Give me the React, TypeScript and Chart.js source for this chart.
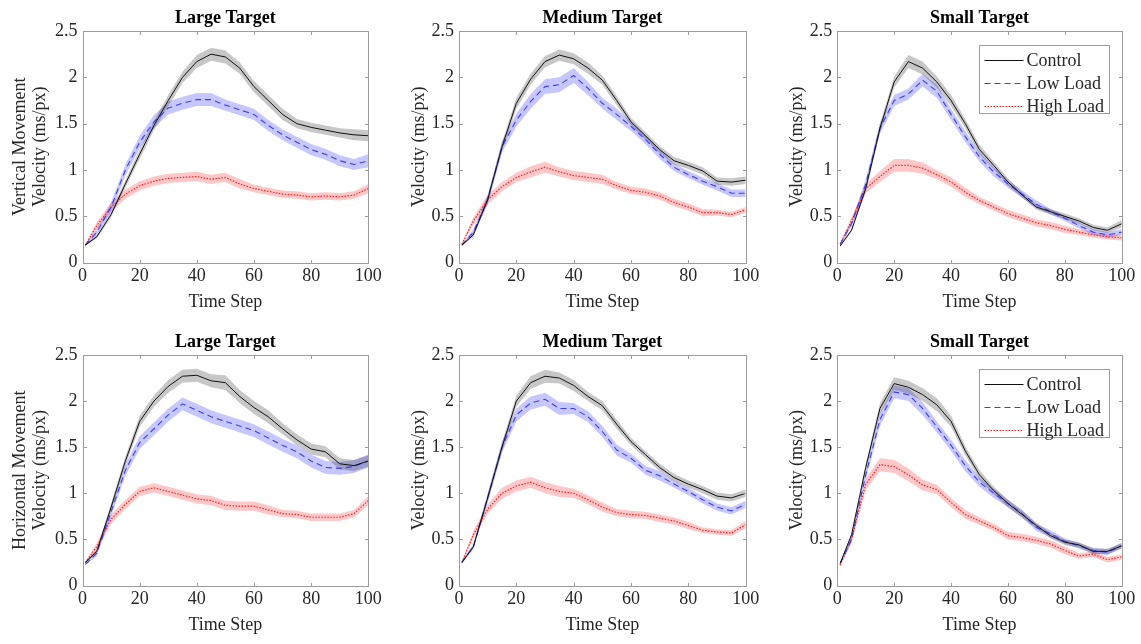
import { useEffect, useRef } from "react";
import { Chart, registerables } from "chart.js";

Chart.register(...registerables);

// Time steps at which the mean curves and their error bands are sampled
const timeSteps = [1, 5, 10, 15, 20, 25, 30, 35, 40, 45, 50, 55, 60, 65, 70, 75, 80, 85, 90, 95, 100];

const seriesNames = ["Control", "Low Load", "High Load"];
const targetTitles = ["Large Target", "Medium Target", "Small Target"];
const movementLabels = ["Vertical Movement", "Horizontal Movement"];
const xTickStep = 20;
const yTickStep = 0.5;

// Vertical movement, large target
const vLargeControl = [0.19, 0.28, 0.52, 0.85, 1.17, 1.48, 1.75, 2.0, 2.17, 2.25, 2.22, 2.1, 1.9, 1.75, 1.6, 1.5, 1.46, 1.43, 1.4, 1.38, 1.37];
const vLargeControlErr = [0.01, 0.02, 0.03, 0.04, 0.05, 0.05, 0.06, 0.06, 0.07, 0.07, 0.07, 0.06, 0.06, 0.06, 0.06, 0.05, 0.05, 0.05, 0.05, 0.06, 0.06];
const vLargeLow = [0.19, 0.33, 0.6, 1.0, 1.3, 1.52, 1.67, 1.72, 1.76, 1.76, 1.7, 1.65, 1.6, 1.48, 1.38, 1.3, 1.22, 1.17, 1.1, 1.06, 1.1];
const vLargeLowErr = [0.01, 0.03, 0.05, 0.06, 0.07, 0.07, 0.07, 0.07, 0.07, 0.07, 0.06, 0.06, 0.06, 0.06, 0.06, 0.06, 0.06, 0.06, 0.06, 0.06, 0.07];
const vLargeHigh = [0.19, 0.4, 0.6, 0.74, 0.83, 0.88, 0.91, 0.92, 0.93, 0.9, 0.92, 0.85, 0.8, 0.77, 0.74, 0.73, 0.71, 0.72, 0.71, 0.73, 0.8];
const vLargeHighErr = [0.01, 0.04, 0.05, 0.05, 0.05, 0.05, 0.05, 0.05, 0.05, 0.05, 0.05, 0.05, 0.04, 0.04, 0.04, 0.04, 0.04, 0.04, 0.04, 0.04, 0.05];

// Vertical movement, medium target
const vMediumControl = [0.19, 0.3, 0.68, 1.25, 1.72, 1.98, 2.17, 2.24, 2.2, 2.1, 1.97, 1.75, 1.52, 1.37, 1.22, 1.1, 1.05, 0.99, 0.88, 0.87, 0.89];
const vMediumControlErr = [0.01, 0.02, 0.04, 0.05, 0.06, 0.06, 0.06, 0.06, 0.06, 0.06, 0.05, 0.05, 0.04, 0.04, 0.04, 0.04, 0.04, 0.04, 0.04, 0.04, 0.04];
const vMediumLow = [0.19, 0.33, 0.68, 1.25, 1.54, 1.74, 1.9, 1.92, 2.02, 1.88, 1.72, 1.6, 1.47, 1.33, 1.17, 1.03, 0.95, 0.88, 0.82, 0.75, 0.75];
const vMediumLowErr = [0.01, 0.03, 0.05, 0.06, 0.07, 0.08, 0.08, 0.08, 0.08, 0.07, 0.06, 0.06, 0.05, 0.05, 0.05, 0.04, 0.04, 0.04, 0.04, 0.04, 0.04];
const vMediumHigh = [0.2, 0.45, 0.68, 0.82, 0.92, 0.98, 1.03, 0.98, 0.94, 0.92, 0.9, 0.83, 0.78, 0.76, 0.72, 0.65, 0.6, 0.54, 0.54, 0.52, 0.57];
const vMediumHighErr = [0.01, 0.04, 0.05, 0.05, 0.05, 0.06, 0.06, 0.05, 0.05, 0.05, 0.05, 0.04, 0.04, 0.04, 0.04, 0.04, 0.04, 0.04, 0.03, 0.03, 0.03];

// Vertical movement, small target
const vSmallControl = [0.18, 0.35, 0.8, 1.45, 1.95, 2.17, 2.1, 1.95, 1.75, 1.5, 1.22, 1.05, 0.87, 0.73, 0.6, 0.55, 0.5, 0.45, 0.38, 0.35, 0.42];
const vSmallControlErr = [0.01, 0.02, 0.04, 0.05, 0.06, 0.07, 0.07, 0.06, 0.06, 0.05, 0.05, 0.04, 0.04, 0.03, 0.03, 0.03, 0.03, 0.03, 0.03, 0.03, 0.04];
const vSmallLow = [0.2, 0.42, 0.85, 1.45, 1.75, 1.82, 1.97, 1.85, 1.6, 1.36, 1.14, 0.98, 0.85, 0.74, 0.63, 0.55, 0.48, 0.4, 0.33, 0.3, 0.33];
const vSmallLowErr = [0.01, 0.03, 0.05, 0.06, 0.06, 0.06, 0.07, 0.07, 0.06, 0.06, 0.05, 0.05, 0.04, 0.04, 0.04, 0.03, 0.03, 0.03, 0.03, 0.03, 0.03];
const vSmallHigh = [0.2, 0.45, 0.8, 0.93, 1.05, 1.05, 1.02, 0.95, 0.87, 0.76, 0.67, 0.6, 0.53, 0.48, 0.43, 0.4, 0.36, 0.33, 0.3, 0.28, 0.27];
const vSmallHighErr = [0.01, 0.04, 0.05, 0.06, 0.07, 0.07, 0.06, 0.05, 0.05, 0.05, 0.04, 0.04, 0.04, 0.04, 0.04, 0.04, 0.04, 0.03, 0.03, 0.03, 0.03];

// Horizontal movement, large target
const hLargeControl = [0.25, 0.37, 0.85, 1.35, 1.78, 2.0, 2.16, 2.27, 2.28, 2.22, 2.2, 2.05, 1.93, 1.83, 1.7, 1.58, 1.48, 1.45, 1.32, 1.3, 1.35];
const hLargeControlErr = [0.01, 0.02, 0.04, 0.05, 0.06, 0.06, 0.07, 0.07, 0.07, 0.07, 0.08, 0.07, 0.07, 0.07, 0.06, 0.06, 0.06, 0.06, 0.06, 0.06, 0.06];
const hLargeLow = [0.23, 0.35, 0.8, 1.25, 1.55, 1.7, 1.85, 1.97, 1.9, 1.83, 1.78, 1.73, 1.68, 1.6, 1.52, 1.45, 1.35, 1.28, 1.27, 1.29, 1.35];
const hLargeLowErr = [0.01, 0.03, 0.05, 0.06, 0.07, 0.07, 0.07, 0.07, 0.07, 0.07, 0.07, 0.07, 0.07, 0.07, 0.07, 0.07, 0.07, 0.07, 0.07, 0.07, 0.07];
const hLargeHigh = [0.25, 0.42, 0.72, 0.88, 1.02, 1.06, 1.02, 0.98, 0.94, 0.92, 0.87, 0.86, 0.86, 0.82, 0.78, 0.77, 0.74, 0.74, 0.74, 0.78, 0.92];
const hLargeHighErr = [0.01, 0.04, 0.05, 0.05, 0.05, 0.05, 0.05, 0.05, 0.05, 0.05, 0.05, 0.05, 0.05, 0.05, 0.04, 0.04, 0.04, 0.04, 0.04, 0.04, 0.05];

// Horizontal movement, medium target
const hMediumControl = [0.25, 0.42, 0.95, 1.5, 2.0, 2.2, 2.27, 2.25, 2.17, 2.05, 1.95, 1.75, 1.56, 1.42, 1.28, 1.17, 1.1, 1.04, 0.97, 0.95, 1.0];
const hMediumControlErr = [0.01, 0.02, 0.04, 0.05, 0.06, 0.07, 0.07, 0.06, 0.06, 0.05, 0.05, 0.05, 0.04, 0.04, 0.04, 0.04, 0.04, 0.04, 0.04, 0.04, 0.04];
const hMediumLow = [0.25, 0.42, 0.95, 1.5, 1.85, 1.98, 2.02, 1.92, 1.92, 1.83, 1.67, 1.47, 1.38, 1.25, 1.19, 1.1, 1.02, 0.93, 0.85, 0.81, 0.88];
const hMediumLowErr = [0.01, 0.03, 0.05, 0.06, 0.07, 0.07, 0.07, 0.07, 0.06, 0.06, 0.06, 0.06, 0.05, 0.05, 0.05, 0.04, 0.04, 0.04, 0.04, 0.04, 0.04];
const hMediumHigh = [0.25, 0.55, 0.83, 1.0, 1.08, 1.12, 1.06, 1.02, 1.0, 0.93, 0.85, 0.79, 0.77, 0.76, 0.73, 0.7, 0.65, 0.6, 0.58, 0.57, 0.66];
const hMediumHighErr = [0.01, 0.04, 0.05, 0.06, 0.06, 0.06, 0.06, 0.06, 0.05, 0.05, 0.05, 0.04, 0.04, 0.04, 0.04, 0.04, 0.04, 0.03, 0.03, 0.03, 0.04];

// Horizontal movement, small target
const hSmallControl = [0.24, 0.55, 1.28, 1.92, 2.19, 2.15, 2.07, 1.96, 1.78, 1.46, 1.2, 1.03, 0.89, 0.77, 0.65, 0.54, 0.47, 0.44, 0.37, 0.37, 0.43];
const hSmallControlErr = [0.01, 0.02, 0.04, 0.06, 0.07, 0.07, 0.07, 0.07, 0.06, 0.05, 0.05, 0.04, 0.04, 0.04, 0.03, 0.03, 0.03, 0.03, 0.03, 0.03, 0.03];
const hSmallLow = [0.24, 0.5, 1.2, 1.8, 2.1, 2.07, 1.92, 1.72, 1.52, 1.3, 1.12, 1.0, 0.89, 0.78, 0.63, 0.56, 0.48, 0.43, 0.38, 0.36, 0.43];
const hSmallLowErr = [0.01, 0.03, 0.05, 0.07, 0.07, 0.07, 0.07, 0.06, 0.06, 0.06, 0.05, 0.05, 0.04, 0.04, 0.04, 0.04, 0.03, 0.03, 0.03, 0.03, 0.03];
const hSmallHigh = [0.22, 0.5, 1.1, 1.31, 1.29, 1.2, 1.09, 1.04, 0.9, 0.77, 0.7, 0.63, 0.54, 0.52, 0.49, 0.45, 0.38, 0.32, 0.34, 0.28, 0.31];
const hSmallHighErr = [0.01, 0.04, 0.06, 0.07, 0.07, 0.07, 0.06, 0.05, 0.05, 0.05, 0.04, 0.04, 0.04, 0.04, 0.04, 0.04, 0.04, 0.03, 0.03, 0.03, 0.03];

type SeriesData = { mean: number[]; err: number[] };

const panelData: SeriesData[][][] = [
  [
    [
      { mean: vLargeControl, err: vLargeControlErr },
      { mean: vLargeLow, err: vLargeLowErr },
      { mean: vLargeHigh, err: vLargeHighErr },
    ],
    [
      { mean: vMediumControl, err: vMediumControlErr },
      { mean: vMediumLow, err: vMediumLowErr },
      { mean: vMediumHigh, err: vMediumHighErr },
    ],
    [
      { mean: vSmallControl, err: vSmallControlErr },
      { mean: vSmallLow, err: vSmallLowErr },
      { mean: vSmallHigh, err: vSmallHighErr },
    ],
  ],
  [
    [
      { mean: hLargeControl, err: hLargeControlErr },
      { mean: hLargeLow, err: hLargeLowErr },
      { mean: hLargeHigh, err: hLargeHighErr },
    ],
    [
      { mean: hMediumControl, err: hMediumControlErr },
      { mean: hMediumLow, err: hMediumLowErr },
      { mean: hMediumHigh, err: hMediumHighErr },
    ],
    [
      { mean: hSmallControl, err: hSmallControlErr },
      { mean: hSmallLow, err: hSmallLowErr },
      { mean: hSmallHigh, err: hSmallHighErr },
    ],
  ],
];

// Styling
const FONT = "'Liberation Serif', 'Times New Roman', serif";
const TEXT = "#262626";
const FRAME = "#9c9c9c";
const seriesStyles = [
  { line: "#111111", band: "rgba(0,0,0,0.22)", dash: [] as number[], width: 1 },
  { line: "#3a3aff", band: "rgba(0,0,255,0.22)", dash: [6, 4], width: 1.1 },
  { line: "#ff2020", band: "rgba(255,0,0,0.22)", dash: [1.5, 1.5], width: 1.2 },
];

// Page geometry of each plot area (px)
const PAGE_W = 1141;
const PAGE_H = 644;
const colLeft = [82.5, 459, 837.3];
const colRight = [368.3, 745.7, 1121.7];
const rowTop = [31, 355];
const rowBottom = [262.7, 585.5];
const titleCenterY = [18.3, 342];
const yTitleCenterX = [20, 419.3, 797.3];
const X_AXIS_H = 49;
const Y_TITLE_LH = 1.1;

const framePlugin = {
  id: "frameTicks",
  afterDatasetsDraw(chart: any) {
    const { ctx, chartArea: a, scales } = chart;
    const xs = scales.x;
    const ys = scales.y;
    const l = Math.round(a.left) + 0.5;
    const r = Math.round(a.right) + 0.5;
    const t = Math.round(a.top) + 0.5;
    const b = Math.round(a.bottom) + 0.5;
    const len = 3.5;
    ctx.save();
    ctx.strokeStyle = FRAME;
    ctx.lineWidth = 1;
    ctx.setLineDash([]);
    ctx.beginPath();
    ctx.rect(l, t, r - l, b - t);
    xs.ticks.forEach((tk: any) => {
      const px = Math.round(xs.getPixelForValue(tk.value)) + 0.5;
      ctx.moveTo(px, b);
      ctx.lineTo(px, b - len);
      ctx.moveTo(px, t);
      ctx.lineTo(px, t + len);
    });
    ys.ticks.forEach((tk: any) => {
      const py = Math.round(ys.getPixelForValue(tk.value)) + 0.5;
      ctx.moveTo(l, py);
      ctx.lineTo(l + len, py);
      ctx.moveTo(r, py);
      ctx.lineTo(r - len, py);
    });
    ctx.stroke();
    ctx.restore();
  },
};

const legendPlugin = {
  id: "insideLegend",
  afterDraw(chart: any) {
    const { ctx, chartArea: a } = chart;
    const left = Math.round(a.right - 142.4) + 0.5;
    const top = Math.round(a.top + 13.7) + 0.5;
    const w = 130;
    const h = 68;
    ctx.save();
    ctx.fillStyle = "#ffffff";
    ctx.fillRect(left, top, w, h);
    ctx.strokeStyle = FRAME;
    ctx.lineWidth = 1;
    ctx.strokeRect(left, top, w, h);
    ctx.font = `18px ${FONT}`;
    ctx.textBaseline = "middle";
    ctx.textAlign = "left";
    seriesNames.forEach((name, i) => {
      const st = seriesStyles[i];
      const cy = top + 14.5 + i * 23;
      ctx.beginPath();
      ctx.strokeStyle = st.line;
      ctx.lineWidth = st.width;
      ctx.setLineDash(st.dash);
      ctx.moveTo(left + 5, Math.round(cy) + 0.5);
      ctx.lineTo(left + 44, Math.round(cy) + 0.5);
      ctx.stroke();
      ctx.setLineDash([]);
      ctx.fillStyle = TEXT;
      ctx.fillText(name, left + 47, cy + 1);
    });
    ctx.restore();
  },
};

function buildDatasets(series: SeriesData[]) {
  const bands: any[] = [];
  const lines: any[] = [];
  series.forEach((s, k) => {
    const st = seriesStyles[k];
    bands.push({
      label: `${seriesNames[k]} upper`,
      data: s.mean.map((v, i) => ({ x: timeSteps[i], y: v + s.err[i] })),
      fill: "+1",
      backgroundColor: st.band,
      borderColor: "transparent",
      borderWidth: 0,
      pointRadius: 0,
      tension: 0,
      order: 2,
    });
    bands.push({
      label: `${seriesNames[k]} lower`,
      data: s.mean.map((v, i) => ({ x: timeSteps[i], y: v - s.err[i] })),
      fill: false,
      borderColor: "transparent",
      borderWidth: 0,
      pointRadius: 0,
      tension: 0,
      order: 2,
    });
    lines.push({
      label: seriesNames[k],
      data: s.mean.map((v, i) => ({ x: timeSteps[i], y: v })),
      fill: false,
      borderColor: st.line,
      borderWidth: st.width,
      borderDash: st.dash,
      pointRadius: 0,
      tension: 0,
      order: 1,
    });
  });
  return [...bands, ...lines];
}

function Panel({ row, col }: { row: number; col: number }) {
  const ref = useRef<HTMLCanvasElement | null>(null);

  useEffect(() => {
    if (!ref.current) return;
    const left = colLeft[col];
    const right = colRight[col];
    const top = rowTop[row];
    const bottom = rowBottom[row];
    const yTitleFont = 18;
    const padLeft = yTitleCenterX[col] - (yTitleFont * Y_TITLE_LH) / 2;
    const yAxisW = left - padLeft;
    const titleTop = titleCenterY[row] - 9;
    const titlePadBottom = top - titleCenterY[row] - 9;

    const yTitle = col === 0 ? [movementLabels[row], "Velocity (ms/px)"] : "Velocity (ms/px)";

    const chart = new Chart(ref.current, {
      type: "line",
      data: { datasets: buildDatasets(panelData[row][col]) },
      plugins: col === 2 ? [framePlugin, legendPlugin] : [framePlugin],
      options: {
        animation: false,
        responsive: false,
        events: [],
        layout: {
          padding: {
            left: padLeft,
            right: PAGE_W - right,
            top: titleTop,
            bottom: PAGE_H - bottom - X_AXIS_H,
          },
        },
        plugins: {
          legend: { display: false },
          tooltip: { enabled: false },
          title: {
            display: true,
            text: targetTitles[col],
            fullSize: false,
            color: "#000000",
            font: { family: FONT, size: 18, weight: "bold", lineHeight: 1 },
            padding: { top: 0, bottom: titlePadBottom },
          },
        },
        scales: {
          x: {
            type: "linear",
            min: 0,
            max: 100,
            grid: { display: false, drawTicks: false },
            border: { display: false },
            ticks: {
              stepSize: xTickStep,
              color: TEXT,
              padding: 3,
              maxRotation: 0,
              font: { family: FONT, size: 18 },
            },
            title: {
              display: true,
              text: "Time Step",
              color: TEXT,
              padding: 0,
              font: { family: FONT, size: 18, lineHeight: 1 },
            },
            afterFit(scale: any) {
              scale.height = X_AXIS_H;
              scale.paddingLeft = 0;
              scale.paddingRight = 0;
            },
          },
          y: {
            type: "linear",
            min: 0,
            max: 2.5,
            grid: { display: false, drawTicks: false },
            border: { display: false },
            ticks: {
              stepSize: yTickStep,
              color: TEXT,
              padding: 5,
              font: { family: FONT, size: 18 },
              callback: (v: any) => String(Math.round(Number(v) * 10) / 10),
            },
            title: {
              display: true,
              text: yTitle,
              color: TEXT,
              padding: 0,
              font: { family: FONT, size: yTitleFont, lineHeight: Y_TITLE_LH },
            },
            afterFit(scale: any) {
              scale.width = yAxisW;
              scale.paddingTop = 0;
              scale.paddingBottom = 0;
            },
          },
        },
      } as any,
    });
    return () => chart.destroy();
  }, [row, col]);

  return (
    <canvas
      ref={ref}
      width={PAGE_W}
      height={PAGE_H}
      style={{ position: "absolute", left: 0, top: 0, width: PAGE_W, height: PAGE_H }}
    />
  );
}

export default function App() {
  const cells: { row: number; col: number }[] = [];
  for (let r = 0; r < 2; r++) for (let c = 0; c < 3; c++) cells.push({ row: r, col: c });
  return (
    <div
      style={{
        position: "fixed",
        left: 0,
        top: 0,
        width: PAGE_W,
        height: PAGE_H,
        background: "#ffffff",
        overflow: "hidden",
      }}
    >
      {cells.map((p) => (
        <Panel key={`${p.row}-${p.col}`} row={p.row} col={p.col} />
      ))}
    </div>
  );
}
